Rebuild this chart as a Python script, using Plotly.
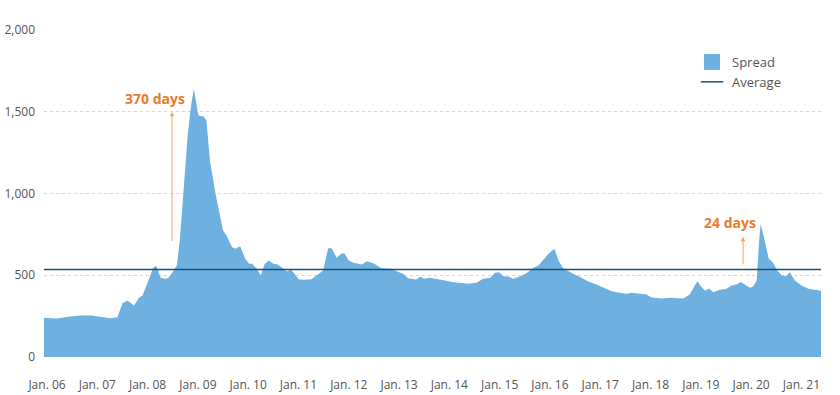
import plotly.graph_objects as go

# Spread series (decimal year, value)
years = [2005.94, 2006.19, 2006.46, 2006.66, 2006.89, 2007.09, 2007.25, 2007.40, 2007.50, 2007.60,
         2007.73, 2007.83, 2007.90, 2007.99, 2008.11, 2008.17, 2008.26, 2008.35, 2008.41, 2008.50,
         2008.58, 2008.64, 2008.72, 2008.80, 2008.86, 2008.92, 2009.01, 2009.11, 2009.17, 2009.24,
         2009.35, 2009.50, 2009.57, 2009.68, 2009.75, 2009.84, 2009.94, 2010.02, 2010.08, 2010.17,
         2010.25, 2010.33, 2010.41, 2010.50, 2010.59, 2010.68, 2010.77, 2010.85, 2010.92, 2011.01,
         2011.13, 2011.26, 2011.38, 2011.49, 2011.59, 2011.66, 2011.76, 2011.86, 2011.92, 2012.00,
         2012.09, 2012.26, 2012.36, 2012.49, 2012.65, 2012.85, 2012.95, 2013.08, 2013.18, 2013.34,
         2013.42, 2013.50, 2013.61, 2013.75, 2013.91, 2014.05, 2014.21, 2014.38, 2014.54, 2014.67,
         2014.81, 2014.91, 2014.99, 2015.07, 2015.17, 2015.27, 2015.40, 2015.54, 2015.67, 2015.77,
         2015.87, 2015.97, 2016.09, 2016.17, 2016.26, 2016.36, 2016.50, 2016.63, 2016.76, 2016.89,
         2017.06, 2017.23, 2017.39, 2017.52, 2017.62, 2017.82, 2017.92, 2018.02, 2018.22, 2018.39,
         2018.52, 2018.65, 2018.78, 2018.86, 2018.93, 2019.02, 2019.08, 2019.17, 2019.25, 2019.38,
         2019.51, 2019.61, 2019.71, 2019.79, 2019.88, 2019.98, 2020.04, 2020.11, 2020.16, 2020.19,
         2020.27, 2020.35, 2020.43, 2020.52, 2020.61, 2020.69, 2020.77, 2020.87, 2021.00, 2021.14,
         2021.27, 2021.39]
spread = [240, 236, 248, 254, 254, 242, 237, 243, 329, 346,
          315, 362, 376, 448, 544, 558, 485, 477, 483, 520,
          560, 713, 1039, 1366, 1529, 1640, 1477, 1471, 1447, 1200,
          1000, 774, 743, 672, 662, 678, 601, 570, 570, 540,
          498, 570, 590, 570, 566, 546, 523, 535, 505, 474,
          472, 476, 503, 529, 665, 665, 607, 635, 631, 590,
          576, 566, 586, 574, 543, 539, 525, 509, 482, 474,
          492, 478, 484, 478, 468, 458, 454, 448, 454, 478,
          484, 515, 519, 494, 492, 478, 492, 513, 546, 560,
          595, 631, 662, 590, 543, 525, 503, 484, 462, 448,
          427, 402, 393, 387, 393, 387, 382, 364, 358, 362,
          358, 358, 382, 427, 463, 427, 407, 417, 396, 411,
          417, 437, 443, 458, 443, 423, 431, 468, 713, 815,
          713, 601, 580, 529, 498, 494, 519, 468, 437, 417,
          411, 405]
AVERAGE = 535

tick_years = list(range(2006, 2022))
tick_labels = ["Jan. %02d" % (y % 100) for y in tick_years]
y_ticks = [0, 500, 1000, 1500, 2000]

X_MIN, X_MAX = 2005.94, 2021.39

AREA = "#6EB1E1"
NAVY = "#1B4F7B"
ORANGE = "#EC7A2C"
ARROW = "#F2A26A"
FONT = "Open Sans"

fig = go.Figure()
fig.add_trace(go.Scatter(x=years, y=spread, mode="lines", fill="tozeroy",
                         line=dict(width=0, color=AREA), fillcolor=AREA,
                         showlegend=False, hoverinfo="skip"))
fig.add_trace(go.Scatter(x=[X_MIN, X_MAX], y=[AVERAGE, AVERAGE], mode="lines",
                         line=dict(width=1.5, color=NAVY), showlegend=False,
                         hoverinfo="skip"))
# legend entries
fig.add_trace(go.Scatter(x=[None], y=[None], mode="markers", name="Spread",
                         marker=dict(symbol="square", size=17, color=AREA)))
fig.add_trace(go.Scatter(x=[None], y=[None], mode="markers", name="Average",
                         marker=dict(symbol="line-ew", size=18,
                                     line=dict(width=1.5, color=NAVY))))

annos = [
    dict(x=2008.147, y=1584, text="<b>370 days</b>"),
    dict(x=2019.58, y=820, text="<b>24 days</b>"),
]
for a in annos:
    fig.add_annotation(x=a["x"], y=a["y"], text=a["text"], showarrow=False,
                       font=dict(family=FONT, size=14, color=ORANGE),
                       xanchor="center", yanchor="middle")
arrows = [(2008.485, 700, 1500), (2019.84, 557, 736)]
for x, y0, y1 in arrows:
    fig.add_annotation(x=x, y=y1, ax=x, ay=y0, axref="x", ayref="y", text="",
                       showarrow=True, arrowhead=2, arrowsize=0.9, arrowwidth=1,
                       arrowcolor=ARROW)

fig.update_layout(
    width=840, height=395,
    margin=dict(l=44, r=19, t=30, b=38, autoexpand=False),
    paper_bgcolor="white", plot_bgcolor="white",
    font=dict(family=FONT, size=12, color="#555555"),
    hovermode=False,
    legend=dict(x=0.834, y=0.948, xanchor="left", yanchor="top",
                font=dict(family=FONT, size=13, color="#555555"),
                bgcolor="rgba(0,0,0,0)", tracegroupgap=2, itemsizing="trace"),
    xaxis=dict(range=[X_MIN, X_MAX], tickvals=tick_years, ticktext=tick_labels,
               showgrid=False, zeroline=False, showline=False, ticks="",
               automargin=False,
               ticklabelstandoff=19, tickfont=dict(size=12, color="#555555")),
    yaxis=dict(range=[0, 2000], tickvals=y_ticks, tickformat=",",
               showgrid=True, gridcolor="#d6d6d6", griddash="dot", gridwidth=1,
               zeroline=False, showline=False, ticks="", ticklabelstandoff=8,
               automargin=False,
               tickfont=dict(size=12, color="#555555")),
)

# remove the default 8px page margin so the figure sits at the window origin
fig.write_html("out.html", config={"displayModeBar": False},
               post_script="document.body.style.margin='0';document.body.style.overflow='hidden';")
